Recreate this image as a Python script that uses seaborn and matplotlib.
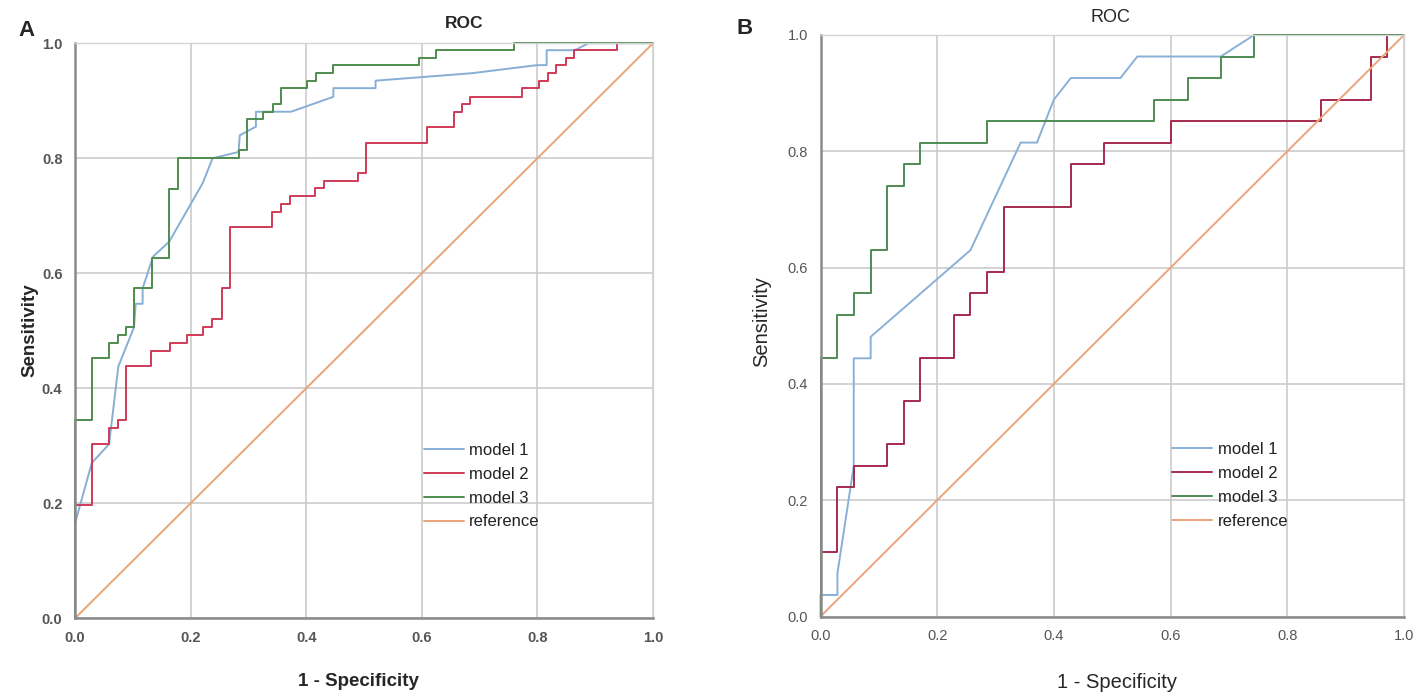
import numpy as np
import pandas as pd
import matplotlib
matplotlib.use("Agg")
import matplotlib.pyplot as plt
import seaborn as sns

# ---- data (ROC vertices: 1 - specificity, sensitivity) ----
a_m1_fpr = [0, 0, 0.029, 0.059, 0.075, 0.102, 0.105, 0.117, 0.117, 0.135, 0.163, 0.221,
            0.238, 0.283, 0.285, 0.313, 0.313, 0.374, 0.447, 0.447, 0.52, 0.52, 0.687,
            0.799, 0.816, 0.816, 0.865, 0.888, 1.0]
a_m1_tpr = [0, 0.165, 0.27, 0.303, 0.438, 0.506, 0.547, 0.547, 0.574, 0.629, 0.655, 0.757,
            0.8, 0.811, 0.84, 0.855, 0.881, 0.881, 0.907, 0.922, 0.922, 0.935, 0.948,
            0.962, 0.962, 0.988, 0.988, 1.0, 1.0]

a_m2_fpr = [0, 0, 0.029, 0.029, 0.059, 0.059, 0.075, 0.075, 0.089, 0.089, 0.132, 0.132,
            0.164, 0.164, 0.194, 0.194, 0.222, 0.222, 0.237, 0.237, 0.254, 0.254, 0.268,
            0.268, 0.34, 0.34, 0.356, 0.356, 0.372, 0.372, 0.416, 0.416, 0.431, 0.431,
            0.489, 0.489, 0.504, 0.504, 0.609, 0.609, 0.655, 0.655, 0.670, 0.670, 0.684,
            0.684, 0.773, 0.773, 0.803, 0.803, 0.818, 0.818, 0.833, 0.833, 0.849, 0.849,
            0.864, 0.864, 0.937, 0.937, 1.0]
a_m2_tpr = [0, 0.197, 0.197, 0.303, 0.303, 0.331, 0.331, 0.345, 0.345, 0.438, 0.438, 0.465,
            0.465, 0.479, 0.479, 0.493, 0.493, 0.506, 0.506, 0.52, 0.52, 0.574, 0.574,
            0.681, 0.681, 0.707, 0.707, 0.721, 0.721, 0.734, 0.734, 0.748, 0.748, 0.761,
            0.761, 0.774, 0.774, 0.827, 0.827, 0.854, 0.854, 0.881, 0.881, 0.894, 0.894,
            0.907, 0.907, 0.922, 0.922, 0.935, 0.935, 0.949, 0.949, 0.962, 0.962, 0.975,
            0.975, 0.988, 0.988, 1.0, 1.0]

a_m3_fpr = [0, 0, 0.029, 0.029, 0.059, 0.059, 0.075, 0.075, 0.089, 0.089, 0.102, 0.102,
            0.133, 0.133, 0.163, 0.163, 0.178, 0.178, 0.283, 0.283, 0.297, 0.297, 0.326,
            0.326, 0.342, 0.342, 0.356, 0.356, 0.401, 0.401, 0.417, 0.417, 0.447, 0.447,
            0.595, 0.595, 0.625, 0.625, 0.759, 0.759, 1.0]
a_m3_tpr = [0, 0.345, 0.345, 0.452, 0.452, 0.479, 0.479, 0.493, 0.493, 0.506, 0.506, 0.574,
            0.574, 0.626, 0.626, 0.747, 0.747, 0.8, 0.8, 0.814, 0.814, 0.868, 0.868,
            0.881, 0.881, 0.894, 0.894, 0.922, 0.922, 0.935, 0.935, 0.948, 0.948, 0.962,
            0.962, 0.975, 0.975, 0.988, 0.988, 1.0, 1.0]

b_m1_fpr = [0, 0, 0.029, 0.029, 0.057, 0.057, 0.086, 0.086, 0.257, 0.343, 0.371, 0.4,
            0.429, 0.514, 0.543, 0.686, 0.743, 1.0]
b_m1_tpr = [0, 0.037, 0.037, 0.074, 0.259, 0.444, 0.444, 0.481, 0.630, 0.815, 0.815, 0.889,
            0.926, 0.926, 0.963, 0.963, 1.0, 1.0]

b_m2_fpr = [0, 0, 0.029, 0.029, 0.057, 0.057, 0.114, 0.114, 0.143, 0.143, 0.171, 0.171,
            0.229, 0.229, 0.257, 0.257, 0.286, 0.286, 0.314, 0.314, 0.429, 0.429, 0.486,
            0.486, 0.6, 0.6, 0.857, 0.857, 0.943, 0.943, 0.971, 0.971, 1.0]
b_m2_tpr = [0, 0.111, 0.111, 0.222, 0.222, 0.259, 0.259, 0.296, 0.296, 0.370, 0.370, 0.444,
            0.444, 0.519, 0.519, 0.556, 0.556, 0.593, 0.593, 0.704, 0.704, 0.778, 0.778,
            0.815, 0.815, 0.852, 0.852, 0.889, 0.889, 0.963, 0.963, 1.0, 1.0]

b_m3_fpr = [0, 0, 0.029, 0.029, 0.057, 0.057, 0.086, 0.086, 0.114, 0.114, 0.143, 0.143,
            0.171, 0.171, 0.286, 0.286, 0.571, 0.571, 0.629, 0.629, 0.686, 0.686, 0.743,
            0.743, 1.0]
b_m3_tpr = [0, 0.444, 0.444, 0.518, 0.518, 0.556, 0.556, 0.630, 0.630, 0.741, 0.741, 0.778,
            0.778, 0.815, 0.815, 0.852, 0.852, 0.889, 0.889, 0.926, 0.926, 0.963, 0.963,
            1.0, 1.0]

ref_fpr = [0, 1]
ref_tpr = [0, 1]

labels = ["model 1", "model 2", "model 3", "reference"]
ticks = [0.0, 0.2, 0.4, 0.6, 0.8, 1.0]
tick_labels = ["0.0", "0.2", "0.4", "0.6", "0.8", "1.0"]

colors_a = ["#87AFD5", "#CF3A58", "#4F8C4F", "#E9A477"]
colors_b = ["#8AB0D8", "#A52A4D", "#4F8B52", "#EDA47C"]


def long_frame(curves):
    rows = []
    for name, (fpr, tpr) in zip(labels, curves):
        for i, (x, y) in enumerate(zip(fpr, tpr)):
            rows.append({"model": name, "order": i, "fpr": x, "tpr": y})
    return pd.DataFrame(rows)


sns.set_style("white")
plt.rcParams["font.family"] = ["Liberation Sans", "DejaVu Sans"]

fig = plt.figure(figsize=(14.17, 7.0), dpi=100)
W, H = 1417, 700


def draw_panel(rect, curves, colors, bold, tick_color, leg_anchor):
    ax = fig.add_axes(rect)
    df = long_frame(curves)
    sns.lineplot(data=df, x="fpr", y="tpr", hue="model", palette=colors,
                 sort=False, estimator=None, linewidth=1.4, ax=ax)
    for ln in ax.lines:
        ln.set_clip_on(False)
    ax.set_xlim(0, 1)
    ax.set_ylim(0, 1)
    ax.set_xticks(ticks)
    ax.set_yticks(ticks)
    weight = "bold" if bold else "normal"
    ax.set_xticklabels(tick_labels, fontsize=10.5, color=tick_color, fontweight=weight)
    ax.set_yticklabels(tick_labels, fontsize=10.5, color=tick_color, fontweight=weight)
    ax.tick_params(length=0, pad=9)
    ax.grid(True, color="#c8c8c8", linewidth=1.1)
    ax.set_axisbelow(True)
    for s in ("left", "bottom"):
        ax.spines[s].set_color("#8a8a8a")
        ax.spines[s].set_linewidth(1.8)
    for s in ("top", "right"):
        ax.spines[s].set_color("#d4d4d4")
        ax.spines[s].set_linewidth(1.0)
    ax.set_xlabel("")
    ax.set_ylabel("")

    old = ax.get_legend()
    handles = old.legend_handles
    texts = [t.get_text() for t in old.get_texts()]
    old.remove()
    leg = ax.legend(handles, texts, loc="upper left", bbox_to_anchor=leg_anchor,
                    frameon=False, fontsize=12, handlelength=2.4, handletextpad=0.35,
                    labelspacing=0.53, borderpad=0, borderaxespad=0)
    for h in leg.legend_handles:
        h.set_linewidth(1.4)
    for t in leg.get_texts():
        t.set_color("#222222")
    return ax


curves_a = [(a_m1_fpr, a_m1_tpr), (a_m2_fpr, a_m2_tpr), (a_m3_fpr, a_m3_tpr), (ref_fpr, ref_tpr)]
curves_b = [(b_m1_fpr, b_m1_tpr), (b_m2_fpr, b_m2_tpr), (b_m3_fpr, b_m3_tpr), (ref_fpr, ref_tpr)]

ax_a = draw_panel([75 / W, 1 - 618.3 / H, 578 / W, 575 / H], curves_a, colors_a,
                  True, "#555555", (0.603, 0.305))
ax_b = draw_panel([820.5 / W, 1 - 616.5 / H, 583.5 / W, 581.5 / H], curves_b, colors_b,
                  False, "#555555", (0.602, 0.300))

# panel letters, titles and axis labels
fig.text(18 / W, 1 - 30 / H, "A", fontsize=16, fontweight="bold", va="center", ha="left")
fig.text(737 / W, 1 - 28 / H, "B", fontsize=16, fontweight="bold", va="center", ha="left")
fig.text(464 / W, 1 - 24 / H, "ROC", fontsize=12.5, fontweight="bold", va="center", ha="center")
fig.text(1110 / W, 1 - 17 / H, "ROC", fontsize=13, va="center", ha="center")

fig.text(358 / W, 1 - 681 / H, "1 - Specificity", fontsize=13.5, fontweight="bold",
         va="center", ha="center")
fig.text(30 / W, 1 - 330 / H, "Sensitivity", fontsize=13.5, fontweight="bold",
         va="center", ha="center", rotation=90)
fig.text(1117 / W, 1 - 683 / H, "1 - Specificity", fontsize=14.5, va="center", ha="center")
fig.text(762 / W, 1 - 322 / H, "Sensitivity", fontsize=14.5, va="center", ha="center",
         rotation=90)

fig.savefig("out.png", dpi=100)
